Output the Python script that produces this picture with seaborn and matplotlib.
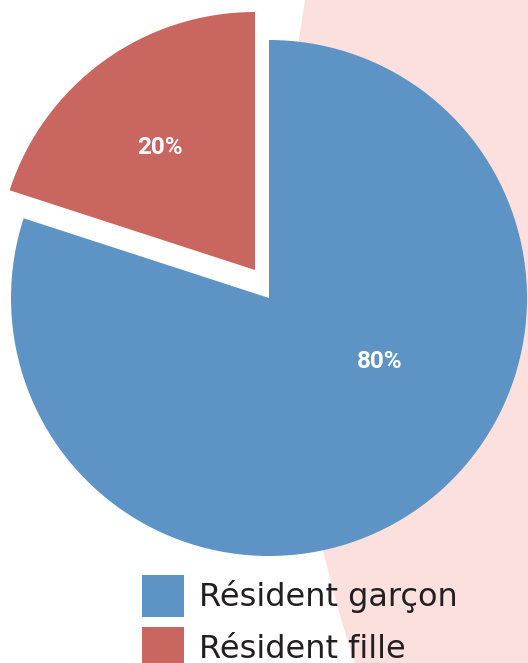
import numpy as np
import matplotlib
matplotlib.use("Agg")
import matplotlib.pyplot as plt
from matplotlib.patches import Patch, Circle
import seaborn as sns

# données
categories = ["Résident garçon", "Résident fille"]
valeurs = [80, 20]
couleurs = ["#5d93c5", "#c8665f"]
rose_fond = "#fbe0dd"
texte_fonce = "#231f20"

sns.set_theme(style="white")
plt.rcParams['font.family'] = ['Roboto', 'DejaVu Sans']

W, H = 528, 663
fig = plt.figure(figsize=(W / 100, H / 100), dpi=100)
ax = fig.add_axes([0, 0, 1, 1])
ax.patch.set_visible(False)

# géométrie en pixels -> unités du camembert
cx_px, cy_px, r_px = 269, 298, 258

wedges, textes, pcts = ax.pie(
    valeurs,
    colors=couleurs,
    startangle=90,
    counterclock=False,
    autopct='%d%%',
    wedgeprops=dict(linewidth=0),
    textprops=dict(color="white", fontsize=17.5, fontweight="bold"),
)

# part "fille" détachée vers le haut-gauche
decal = (-14 / r_px, 28 / r_px)
wedges[1].set_center(decal)

# position des étiquettes comme dans l'original
pcts[0].set_position(((380 - cx_px) / r_px, (cy_px - 362) / r_px))
pcts[1].set_position(((160 - cx_px) / r_px, (cy_px - 147) / r_px))

ax.set_xlim(-cx_px / r_px, (W - cx_px) / r_px)
ax.set_ylim(-(H - cy_px) / r_px, cy_px / r_px)
ax.set_aspect('auto')
ax.axis('off')

# grand cercle rose en arrière-plan
fond = Circle(((1686 - cx_px) / r_px, (cy_px - 230) / r_px), 1400 / r_px,
              facecolor=rose_fond, edgecolor='none', zorder=0)
ax.add_patch(fond)
for w in wedges:
    w.set_zorder(2)
for t in pcts:
    t.set_zorder(3)

handles = [Patch(facecolor=c, edgecolor='none') for c in couleurs]
leg = fig.legend(
    handles, categories,
    loc='upper left',
    bbox_to_anchor=(142 / W, 1 - 575 / H),
    frameon=False,
    prop=dict(family='DejaVu Sans', size=23),
    handlelength=1.315,
    handleheight=1.646,
    handletextpad=0.47,
    labelspacing=0.313,
    borderpad=0,
    borderaxespad=0,
)
for t in leg.get_texts():
    t.set_color(texte_fonce)

fig.savefig("out.png", dpi=100)
